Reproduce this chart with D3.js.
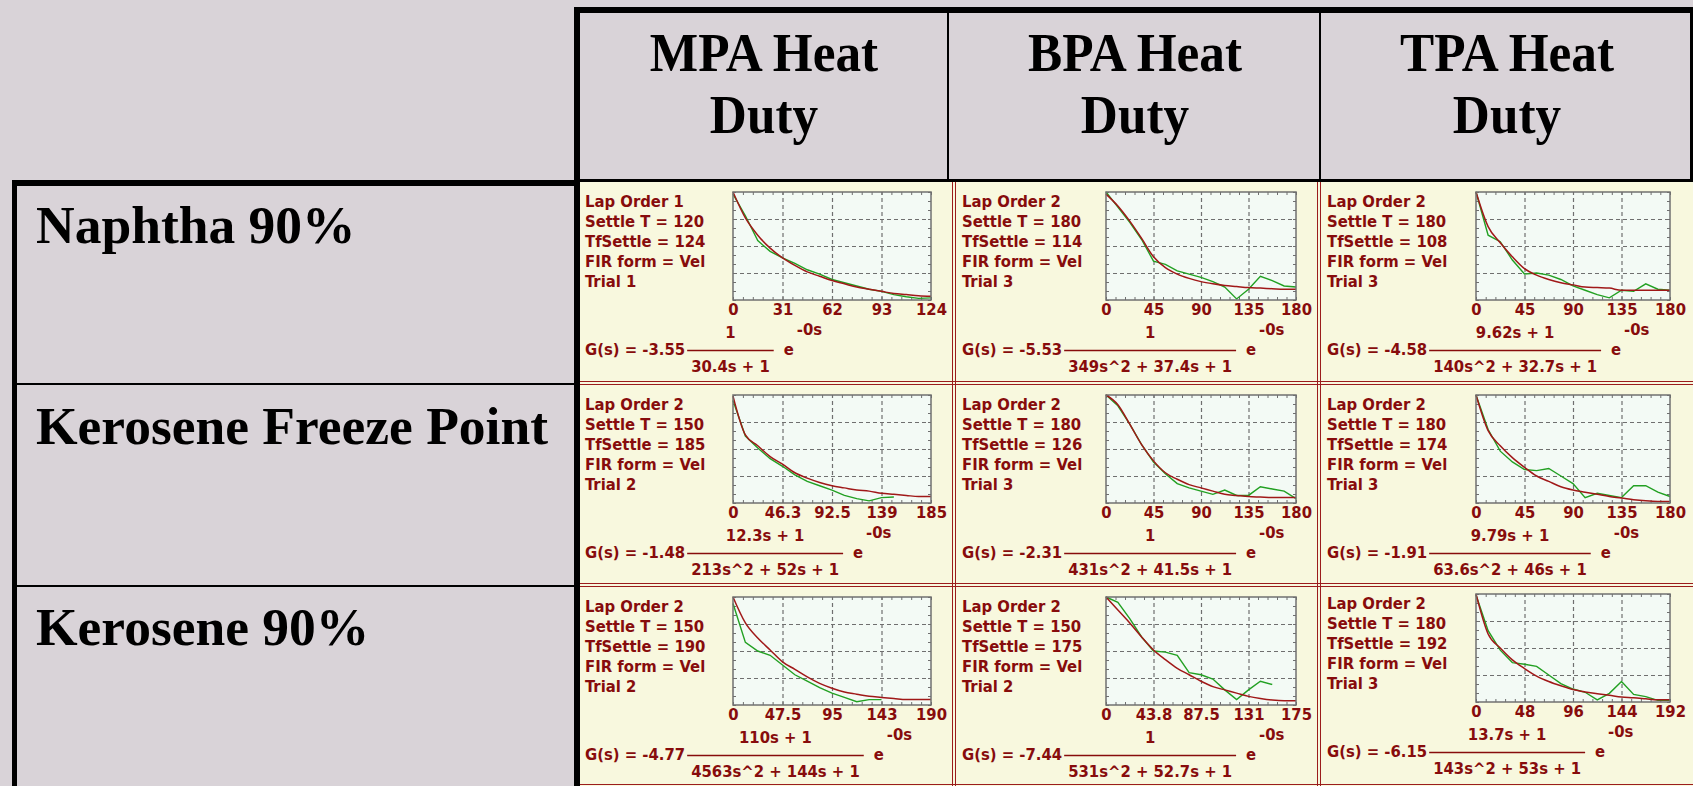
<!DOCTYPE html>
<html>
<head>
<meta charset="utf-8">
<script src="https://cdn.jsdelivr.net/npm/d3@7"></script>
<style>
html, body { margin: 0; padding: 0; background: #D9D3D8; overflow: hidden; }
svg { display: block; }
.head { font-family: "Liberation Serif", "Times New Roman", serif; font-weight: bold; fill: #000; }
.pan text { font-family: "DejaVu Sans Condensed", "DejaVu Sans", sans-serif; font-stretch: condensed; font-weight: bold; font-size: 16.5px; fill: #870C0C; }
</style>
</head>
<body>
<svg id="chart"></svg>
<script>
// headings
var columnTitles = [["MPA Heat", "Duty"], ["BPA Heat", "Duty"], ["TPA Heat", "Duty"]];
var rowTitles = ["Naphtha 90%", "Kerosene Freeze Point", "Kerosene 90%"];

// one entry per panel, row by row (Naphtha, Kerosene FP, Kerosene 90%) x (MPA, BPA, TPA)
var lapOrder = [1, 2, 2, 2, 2, 2, 2, 2, 2];
var settleT = [120, 180, 180, 150, 180, 180, 150, 150, 180];
var tfSettle = [124, 114, 108, 185, 126, 174, 190, 175, 192];
var firForm = ["Vel", "Vel", "Vel", "Vel", "Vel", "Vel", "Vel", "Vel", "Vel"];
var trial = [1, 3, 3, 2, 3, 3, 2, 2, 3];
var xMax = [124, 180, 180, 185, 180, 180, 190, 175, 192];
var xTickLabels = [
    ["0", "31", "62", "93", "124"],
    ["0", "45", "90", "135", "180"],
    ["0", "45", "90", "135", "180"],
    ["0", "46.3", "92.5", "139", "185"],
    ["0", "45", "90", "135", "180"],
    ["0", "45", "90", "135", "180"],
    ["0", "47.5", "95", "143", "190"],
    ["0", "43.8", "87.5", "131", "175"],
    ["0", "48", "96", "144", "192"]
];
var gain = ["-3.55", "-5.53", "-4.58", "-1.48", "-2.31", "-1.91", "-4.77", "-7.44", "-6.15"];
var numerator = ["1", "1", "9.62s + 1", "12.3s + 1", "1", "9.79s + 1", "110s + 1", "1", "13.7s + 1"];
var denominator = ["30.4s + 1", "349s^2 + 37.4s + 1", "140s^2 + 32.7s + 1",
    "213s^2 + 52s + 1", "431s^2 + 41.5s + 1", "63.6s^2 + 46s + 1",
    "4563s^2 + 144s + 1", "531s^2 + 52.7s + 1", "143s^2 + 53s + 1"];
var deadTime = ["-0s", "-0s", "-0s", "-0s", "-0s", "-0s", "-0s", "-0s", "-0s"];

// responses, fraction of plot height, sampled every xMax/16
var modelCurve = [
    [1.0, 0.76, 0.60, 0.48, 0.39, 0.32, 0.26, 0.22, 0.18, 0.15, 0.12, 0.10, 0.08, 0.06, 0.05, 0.04, 0.035],
    [0.98, 0.87, 0.73, 0.57, 0.40, 0.30, 0.24, 0.20, 0.17, 0.15, 0.135, 0.125, 0.115, 0.11, 0.105, 0.10, 0.10],
    [1.0, 0.68, 0.53, 0.40, 0.29, 0.23, 0.19, 0.16, 0.14, 0.12, 0.115, 0.11, 0.09, 0.09, 0.09, 0.09, 0.09],
    [0.99, 0.63, 0.53, 0.43, 0.36, 0.28, 0.23, 0.19, 0.16, 0.14, 0.12, 0.11, 0.09, 0.08, 0.07, 0.06, 0.06],
    [1.0, 0.91, 0.73, 0.54, 0.39, 0.28, 0.22, 0.17, 0.14, 0.11, 0.08, 0.07, 0.06, 0.055, 0.05, 0.05, 0.05],
    [1.0, 0.67, 0.53, 0.42, 0.33, 0.25, 0.20, 0.15, 0.12, 0.10, 0.08, 0.06, 0.046, 0.03, 0.02, 0.015, 0.015],
    [1.0, 0.76, 0.62, 0.51, 0.40, 0.33, 0.26, 0.20, 0.155, 0.12, 0.10, 0.08, 0.07, 0.06, 0.05, 0.05, 0.05],
    [1.0, 0.88, 0.76, 0.63, 0.51, 0.42, 0.34, 0.28, 0.22, 0.17, 0.14, 0.11, 0.08, 0.06, 0.046, 0.04, 0.04],
    [1.0, 0.63, 0.50, 0.39, 0.31, 0.24, 0.19, 0.15, 0.115, 0.093, 0.077, 0.062, 0.046, 0.04, 0.03, 0.02, 0.02]
];
var firCurve = [
    [0.98, 0.78, 0.55, 0.45, 0.39, 0.34, 0.28, 0.24, 0.19, 0.16, 0.13, 0.10, 0.08, 0.05, 0.03, 0.015, 0.02],
    [1.0, 0.86, 0.72, 0.56, 0.36, 0.33, 0.27, 0.24, 0.21, 0.17, 0.12, 0.01, 0.10, 0.22, 0.18, 0.13, 0.12],
    [1.0, 0.60, 0.54, 0.37, 0.24, 0.25, 0.23, 0.19, 0.13, 0.09, 0.05, 0.02, 0.09, 0.08, 0.15, 0.10, 0.09],
    [0.95, 0.62, 0.51, 0.41, 0.34, 0.26, 0.20, 0.16, 0.12, 0.07, 0.04, 0.02, 0.05, 0.055],
    [1.0, 0.90, 0.73, 0.54, 0.38, 0.27, 0.18, 0.14, 0.11, 0.08, 0.12, 0.07, 0.07, 0.15, 0.13, 0.11, 0.04],
    [1.0, 0.68, 0.48, 0.38, 0.31, 0.30, 0.32, 0.25, 0.18, 0.05, 0.09, 0.07, 0.05, 0.16, 0.16, 0.10, 0.06],
    [0.94, 0.58, 0.50, 0.46, 0.37, 0.28, 0.22, 0.16, 0.11, 0.07, 0.03, 0.05, 0.05],
    [1.0, 0.95, 0.80, 0.63, 0.50, 0.49, 0.46, 0.30, 0.28, 0.24, 0.14, 0.05, 0.14, 0.22, 0.19],
    [0.99, 0.66, 0.48, 0.365, 0.35, 0.33, 0.25, 0.17, 0.12, 0.09, 0.02, 0.08, 0.19, 0.07, 0.05, 0.015, 0.015]
];

var W = 1693, H = 786;
var textRed = "#870C0C";

// layout of the table
var colX = [580, 956, 1321];          // panel left edges
var rowY = [182, 385, 587];           // panel top edges
var plotLeft = [153, 150, 155], plotRight = [351, 340, 349];
var plotTop = 10, plotBottom = 118;
var headCenter = [764, 1135, 1507];
var rowLabelBase = [243, 444, 645];

var svg = d3.select("#chart").attr("width", W).attr("height", H);

svg.append("rect").attr("width", W).attr("height", H).attr("fill", "#D9D3D8");
svg.append("rect").attr("x", 580).attr("y", 182).attr("width", W - 580).attr("height", H - 182)
    .attr("fill", "#F8F8DE");

// double red cell borders
var cellRed = "#9B1C1C";
[952.5, 955.5, 1317.5, 1320.5].forEach(function (x) {
    svg.append("line").attr("x1", x).attr("x2", x).attr("y1", 182).attr("y2", H)
        .attr("stroke", cellRed).attr("stroke-width", 1);
});
[381.5, 384.5, 583.5, 586.5, 784.5].forEach(function (y) {
    svg.append("line").attr("x1", 580).attr("x2", W).attr("y1", y).attr("y2", y)
        .attr("stroke", cellRed).attr("stroke-width", 1);
});

// headings
columnTitles.forEach(function (lines, c) {
    lines.forEach(function (t, i) {
        svg.append("text").attr("class", "head")
            .attr("transform", "translate(" + headCenter[c] + "," + (71 + 62 * i) + ") scale(0.95,1)")
            .attr("text-anchor", "middle")
            .attr("font-size", 54)
            .text(t);
    });
});
rowTitles.forEach(function (t, r) {
    svg.append("text").attr("class", "head")
        .attr("x", 36).attr("y", rowLabelBase[r])
        .attr("font-size", 53.5)
        .text(t);
});

// panels
for (var p = 0; p < 9; p++) {
    drawPanel(p);
}

function drawPanel(p) {
    var r = Math.floor(p / 3), c = p % 3;
    var dy = (p === 8) ? -3 : 0;
    var g = svg.append("g").attr("class", "pan")
        .attr("transform", "translate(" + colX[c] + "," + (rowY[r] + dy) + ")");
    var tx = c === 0 ? 5 : 6;

    var info = ["Lap Order " + lapOrder[p], "Settle T = " + settleT[p], "TfSettle = " + tfSettle[p],
        "FIR form = " + firForm[p], "Trial " + trial[p]];
    g.selectAll("text.info").data(info).join("text")
        .attr("class", "info")
        .attr("x", tx)
        .attr("y", function (d, i) { return 25 + 20 * i; })
        .text(function (d) { return d; });

    var x = d3.scaleLinear().domain([0, xMax[p]]).range([plotLeft[c], plotRight[c]]);
    var y = d3.scaleLinear().domain([0, 1]).range([plotBottom, plotTop]);
    var pw = plotRight[c] - plotLeft[c], ph = plotBottom - plotTop;
    var majors = d3.range(5).map(function (i) { return xMax[p] * i / 4; });
    var minors = d3.range(21).map(function (i) { return xMax[p] * i / 20; });
    var yMinors = d3.range(13).map(function (i) { return i / 12; });

    g.append("rect").attr("x", plotLeft[c]).attr("y", plotTop).attr("width", pw).attr("height", ph)
        .attr("fill", "#F3FAF5");

    // dashed grid
    var gx = g.append("g").attr("transform", "translate(0," + plotBottom + ")").attr("color", "#6F6F6F")
        .call(d3.axisBottom(x).tickValues(majors.slice(1, 4)).tickSize(-ph).tickFormat(""));
    var gy = g.append("g").attr("transform", "translate(" + plotLeft[c] + ",0)").attr("color", "#6F6F6F")
        .call(d3.axisLeft(y).tickValues([0.25, 0.5, 0.75]).tickSize(-pw).tickFormat(""));
    [gx, gy].forEach(function (a) {
        a.select(".domain").remove();
        a.selectAll(".tick line").attr("stroke-dasharray", "4,3").attr("stroke-width", 1.2);
    });

    // small inward ticks on the frame
    var minorAxes = [
        [d3.axisTop(x).tickValues(minors), "translate(0," + plotTop + ")"],
        [d3.axisBottom(x).tickValues(minors), "translate(0," + plotBottom + ")"],
        [d3.axisLeft(y).tickValues(yMinors), "translate(" + plotLeft[c] + ",0)"],
        [d3.axisRight(y).tickValues(yMinors), "translate(" + plotRight[c] + ",0)"]
    ];
    minorAxes.forEach(function (m) {
        var a = g.append("g").attr("transform", m[1]).attr("color", "#6F6F6F")
            .call(m[0].tickSize(-3).tickFormat(""));
        a.select(".domain").remove();
    });

    var step = xMax[p] / 16;
    var xi = function (d, i) { return x(i * step); };
    var yv = function (d) { return y(d); };
    g.append("path").datum(firCurve[p])
        .attr("d", d3.line().x(xi).y(yv))
        .attr("fill", "none").attr("stroke", "#22A022").attr("stroke-width", 1.4);
    g.append("path").datum(modelCurve[p])
        .attr("d", d3.line().x(xi).y(yv).curve(d3.curveMonotoneX))
        .attr("fill", "none").attr("stroke", "#A01818").attr("stroke-width", 1.5);

    g.append("rect").attr("x", plotLeft[c]).attr("y", plotTop).attr("width", pw).attr("height", ph)
        .attr("fill", "none").attr("stroke", "#707070").attr("stroke-width", 1.5);

    // x tick labels
    var lab = g.append("g").attr("transform", "translate(0," + plotBottom + ")")
        .call(d3.axisBottom(x).tickValues(majors).tickSize(0).tickPadding(3)
            .tickFormat(function (d, i) { return xTickLabels[p][i]; }));
    lab.select(".domain").remove();

    // transfer function
    var gText = g.append("text").attr("x", tx).attr("y", 173).text("G(s) = " + gain[p]);
    var gEnd = tx + gText.node().getComputedTextLength();
    var num = g.append("text").attr("y", 156).attr("text-anchor", "middle").text(numerator[p]);
    var den = g.append("text").attr("y", 190).attr("text-anchor", "middle").text(denominator[p]);
    var fw = Math.max(num.node().getComputedTextLength(), den.node().getComputedTextLength()) + 8;
    var x0 = gEnd + 2, cx = x0 + fw / 2;
    num.attr("x", cx);
    den.attr("x", cx);
    g.append("line").attr("x1", x0).attr("x2", x0 + fw).attr("y1", 168.5).attr("y2", 168.5)
        .attr("stroke", textRed).attr("stroke-width", 1.3);
    var ex = x0 + fw + 10;
    g.append("text").attr("x", ex).attr("y", 173).text("e");
    g.append("text").attr("x", ex + 13).attr("y", 153).text(deadTime[p]);
}

// black frame of the table
var frame = [
    [574, 7, W - 574, 6], [574, 7, 6, H - 7], [1690, 7, 3, 175], [574, 179, W - 574, 3],
    [947, 13, 2, 166], [1319, 13, 2, 166],
    [12, 180, 568, 6], [12, 180, 5, H - 180],
    [17, 383, 557, 2], [17, 585, 557, 2]
];
svg.selectAll("rect.frame").data(frame).join("rect")
    .attr("class", "frame")
    .attr("x", function (d) { return d[0]; })
    .attr("y", function (d) { return d[1]; })
    .attr("width", function (d) { return d[2]; })
    .attr("height", function (d) { return d[3]; })
    .attr("fill", "#000");
</script>
</body>
</html>
